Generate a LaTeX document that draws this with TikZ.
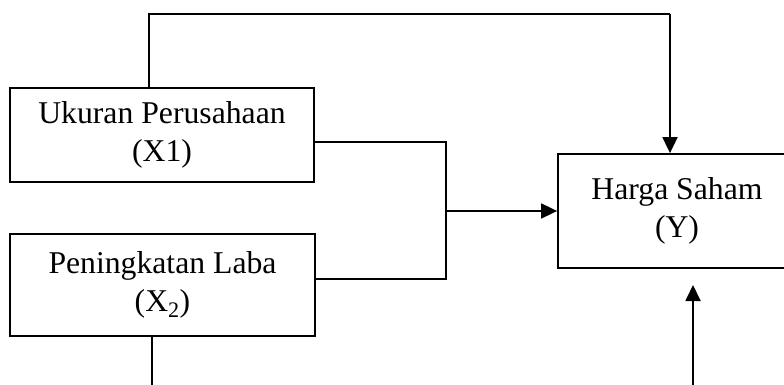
\documentclass[tikz,border=0pt]{standalone}
\usepackage{fontspec}
\setmainfont{Liberation Serif}
\usetikzlibrary{arrows.meta}
\begin{document}
\begin{tikzpicture}[x=1pt,y=-1pt,
  box/.style={draw,line width=1.8pt,rectangle,inner sep=0pt,align=center,
    font=\fontsize{31.7}{38}\selectfont},
  conn/.style={line width=1.8pt},
  arr/.style={line width=1.8pt,-{Triangle[length=16pt,width=15pt]}}]
\useasboundingbox (0,0) rectangle (784,385);
\node[box,minimum width=304pt,minimum height=94pt] (b1) at (162,135) {Ukuran Perusahaan\\(X1)};
\node[box,minimum width=305pt,minimum height=102pt] (b2) at (162.5,285) {Peningkatan Laba\\(X\textsubscript{2})};
\node[box,minimum width=238pt,minimum height=114pt] (y) at (677,211) {Harga Saham\\(Y)};
\coordinate (t1) at (149,14);
\coordinate (t2) at (670,14);
\coordinate (j1) at (446,142);
\coordinate (j2) at (446,279);
\coordinate (e1) at (152,400);
\coordinate (e2) at (693,400);
\coordinate (e3) at (693,285);
\draw[conn] (t1 |- b1.north) -- (t1) -- (t2);
\draw[arr] (t2) -- (t2 |- y.north);
\draw[conn] (j1 -| b1.east) -- (j1) -- (j2) -- (j2 -| b2.east);
\draw[arr] (j1 |- y.west) -- (y.west);
\draw[conn] (b2.south -| e1) -- (e1);
\draw[arr] (e2) -- (e3);
\end{tikzpicture}
\end{document}
